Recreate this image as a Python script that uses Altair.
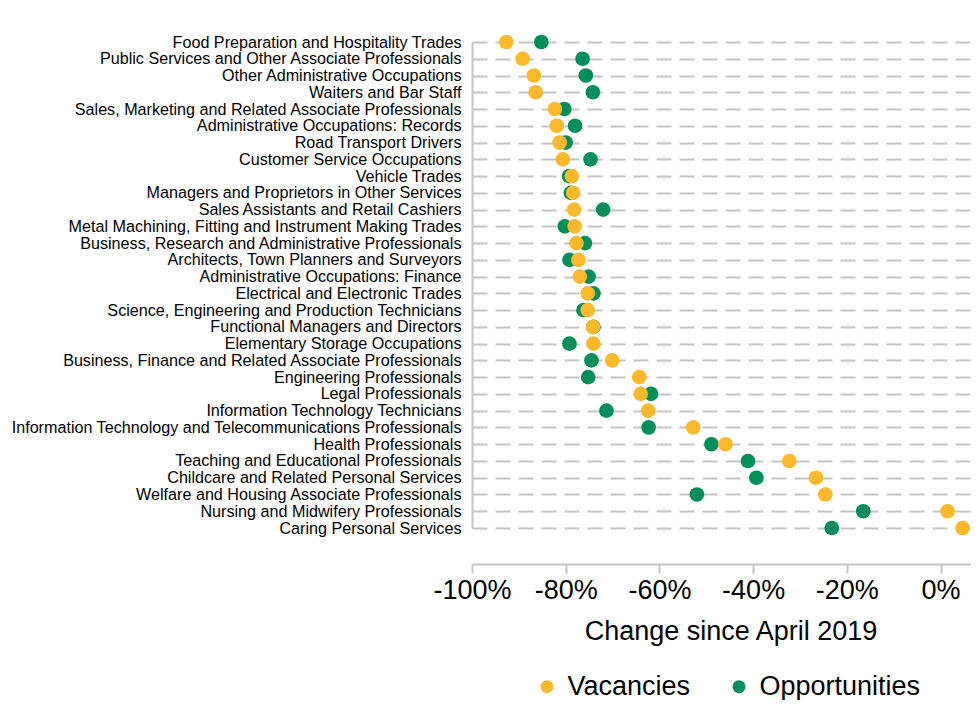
import altair as alt
import pandas as pd

categories = [
    "Food Preparation and Hospitality Trades",
    "Public Services and Other Associate Professionals",
    "Other Administrative Occupations",
    "Waiters and Bar Staff",
    "Sales, Marketing and Related Associate Professionals",
    "Administrative Occupations: Records",
    "Road Transport Drivers",
    "Customer Service Occupations",
    "Vehicle Trades",
    "Managers and Proprietors in Other Services",
    "Sales Assistants and Retail Cashiers",
    "Metal Machining, Fitting and Instrument Making Trades",
    "Business, Research and Administrative Professionals",
    "Architects, Town Planners and Surveyors",
    "Administrative Occupations: Finance",
    "Electrical and Electronic Trades",
    "Science, Engineering and Production Technicians",
    "Functional Managers and Directors",
    "Elementary Storage Occupations",
    "Business, Finance and Related Associate Professionals",
    "Engineering Professionals",
    "Legal Professionals",
    "Information Technology Technicians",
    "Information Technology and Telecommunications Professionals",
    "Health Professionals",
    "Teaching and Educational Professionals",
    "Childcare and Related Personal Services",
    "Welfare and Housing Associate Professionals",
    "Nursing and Midwifery Professionals",
    "Caring Personal Services",
]

vacancies = [-92.7, -89.2, -86.8, -86.4, -82.3, -81.9, -81.3, -80.6, -78.7, -78.4,
             -78.2, -78.1, -77.7, -77.3, -77.0, -75.3, -75.3, -74.2, -74.1, -70.1,
             -64.3, -64.0, -62.4, -52.8, -45.9, -32.3, -26.6, -24.6, 1.5, 4.7]

opportunities = [-85.2, -76.4, -75.7, -74.2, -80.3, -78.0, -80.0, -74.7, -79.3, -78.9,
                 -72.0, -80.2, -75.9, -79.2, -75.1, -74.1, -76.2, -74.1, -79.2, -74.5,
                 -75.2, -61.8, -71.3, -62.3, -48.9, -41.1, -39.3, -52.0, -16.5, -23.2]

series = ["Vacancies", "Opportunities"]
colors = ["#FDB82B", "#008F5B"]
x_ticks = [-100, -80, -60, -40, -20, 0]

rows = []
for c, v in zip(categories, opportunities):
    rows.append({"occupation": c, "series": "Opportunities", "change": v})
for c, v in zip(categories, vacancies):
    rows.append({"occupation": c, "series": "Vacancies", "change": v})
df = pd.DataFrame(rows)

FONT = "Liberation Sans"

chart = (
    alt.Chart(df)
    .mark_circle(size=215, opacity=1)
    .encode(
        x=alt.X(
            "change:Q",
            scale=alt.Scale(domain=[-100, 6.5], nice=False, zero=False),
            axis=alt.Axis(
                values=x_ticks,
                labelExpr="datum.value + '%'",
                title="Change since April 2019",
                grid=False,
                labelFontSize=27,
                titleFontSize=27,
                titleFontWeight="normal",
                labelColor="black",
                titleColor="black",
                domainColor="#c4c4c4",
                domainWidth=2,
                tickColor="#c4c4c4",
                tickWidth=2,
                tickSize=9,
                labelPadding=4,
                titlePadding=15,
                titleX=258.5,
                titleAnchor="middle",
                labelFlush=False,
            ),
        ),
        y=alt.Y(
            "occupation:N",
            sort=categories,
            scale=alt.Scale(type="point", padding=0, range=[34, 520]),
            axis=alt.Axis(
                title=None,
                ticks=False,
                labelFontSize=16.15,
                labelColor="black",
                labelPadding=11,
                labelLimit=600,
                domainColor="#c4c4c4",
                domainWidth=2,
                grid=True,
                gridColor="#c4c4c4",
                gridWidth=2,
                gridDash=[15, 8],
            ),
        ),
        color=alt.Color(
            "series:N",
            scale=alt.Scale(domain=series, range=colors),
            legend=alt.Legend(
                title=None,
                orient="none",
                direction="horizontal",
                legendX=61.5,
                legendY=665,
                symbolType="circle",
                symbolSize=169,
                symbolOpacity=1,
                labelFontSize=27,
                labelColor="black",
                labelOffset=7,
                labelLimit=400,
                columnPadding=35,
            ),
        ),
    )
    .properties(width=499, height=556, padding={"left": 2, "top": 0, "right": 0, "bottom": 0})
    .configure(font=FONT)
    .configure_view(stroke=None)
)

chart.save("out.html", embed_options={"renderer": "svg", "actions": False})
